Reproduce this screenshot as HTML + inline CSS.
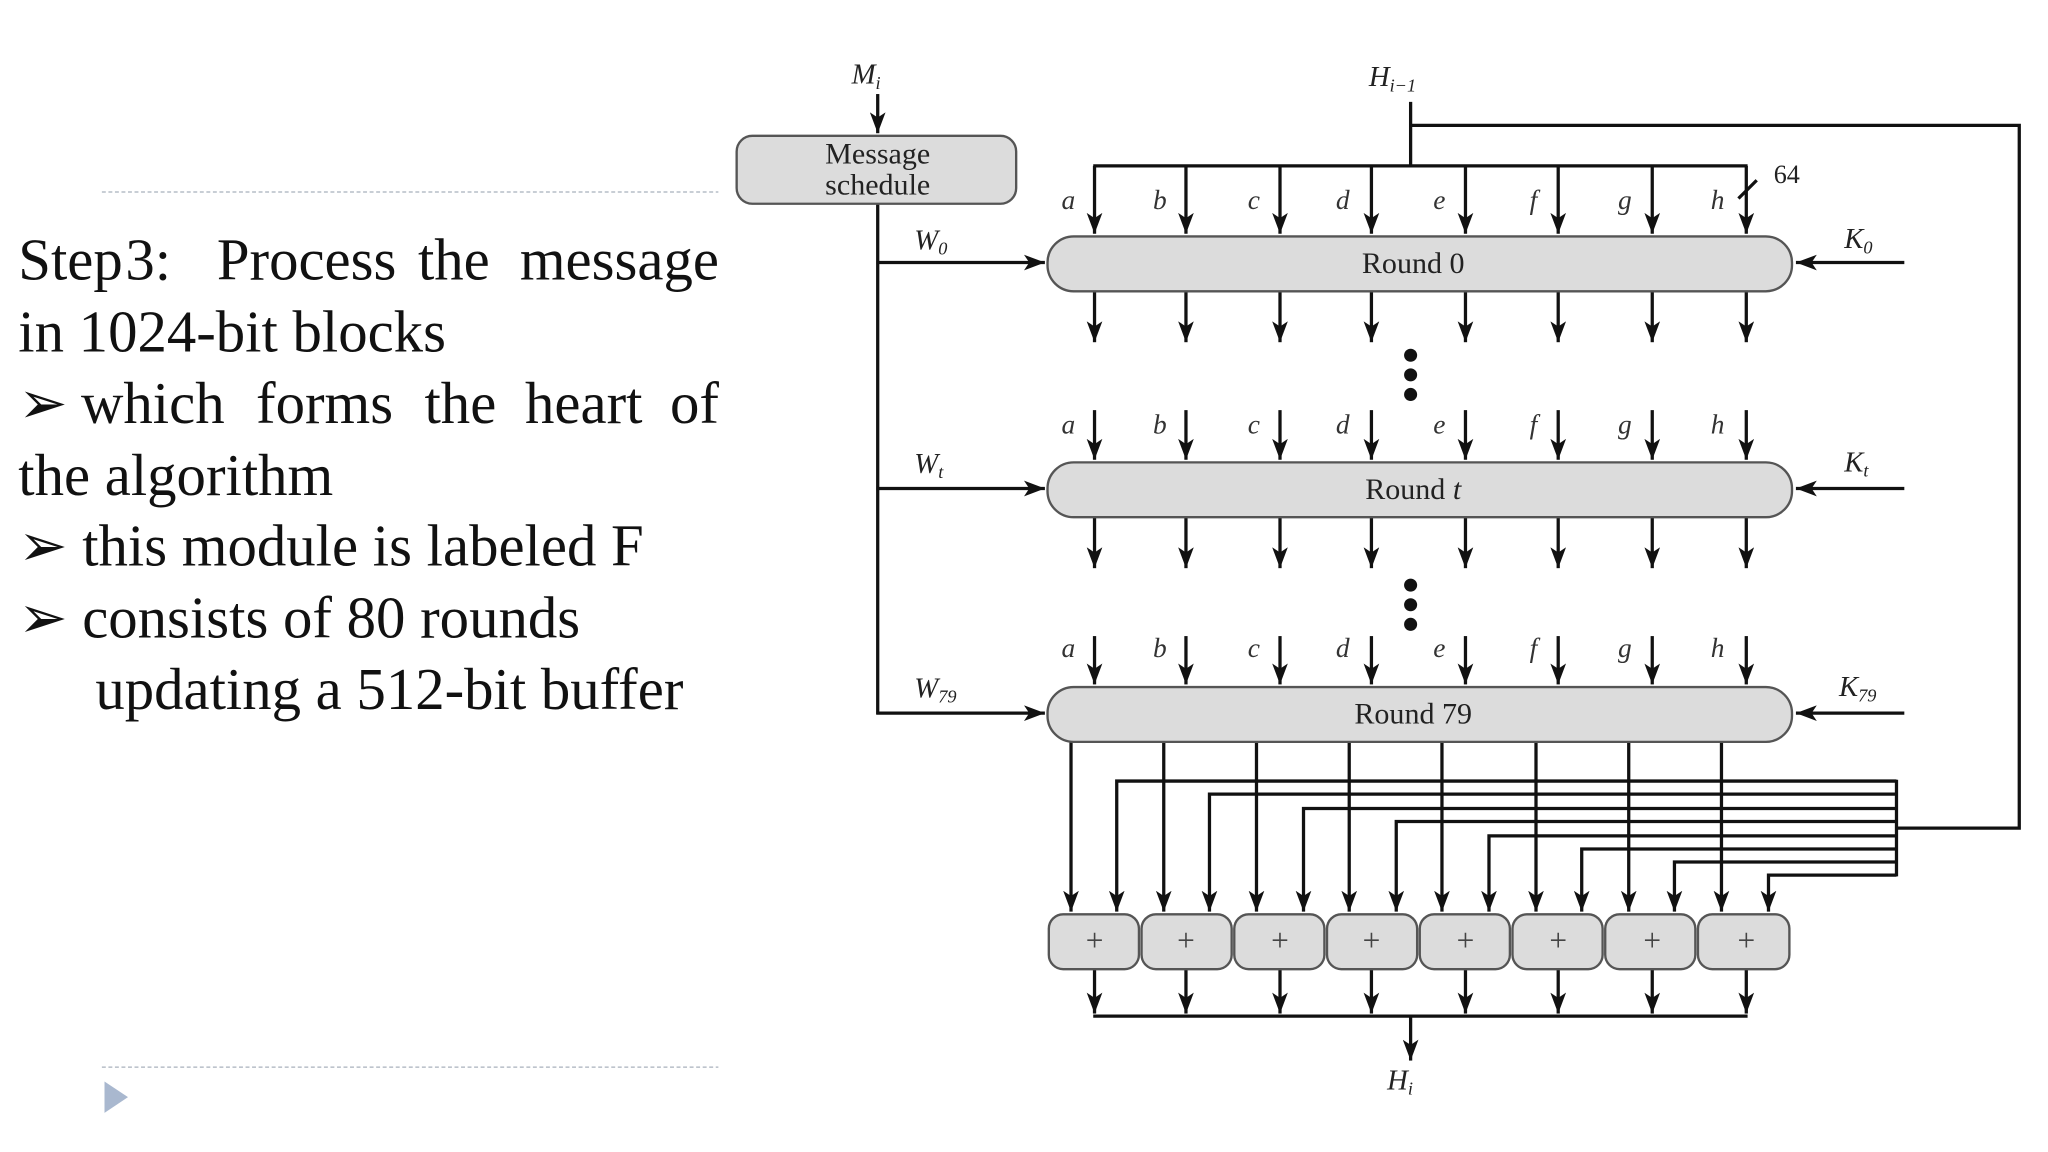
<!DOCTYPE html>
<html><head><meta charset="utf-8"><style>
html,body{margin:0;padding:0;background:#fff;width:2048px;height:1152px;overflow:hidden}
svg{display:block}
</style></head><body>
<svg width="2048" height="1152" viewBox="0 0 1568 882" xmlns="http://www.w3.org/2000/svg">
<defs>
<marker id="ab" markerWidth="16" markerHeight="12" viewBox="0 0 16 12" refX="16" refY="6" orient="auto" markerUnits="userSpaceOnUse">
<path d="M0,0 L16,6 L0,12 L4,6 Z" fill="#111"/>
</marker>
</defs>
<g stroke="#a8b0bc" stroke-width="1" stroke-dasharray="3,2">
<line x1="78" y1="147" x2="550" y2="147"/>
<line x1="78" y1="817" x2="550" y2="817"/>
</g>
<path d="M80,828 L98,840 L80,852 Z" fill="#a9b8cf"/>
<g font-family="Liberation Serif, serif" font-size="45" fill="#111">
<text y="214"><tspan x="14">Step</tspan><tspan x="96">3:</tspan><tspan x="166">Process</tspan><tspan x="320">the</tspan><tspan x="398">message</tspan></text>
<text x="14" y="269">in 1024-bit  blocks</text>
<text y="324"><tspan x="14">➢</tspan><tspan x="62">which</tspan><tspan x="196">forms</tspan><tspan x="325">the</tspan><tspan x="402">heart</tspan><tspan x="513">of</tspan></text>
<text x="14" y="379">the algorithm</text>
<text x="14" y="433">➢ this module is labeled F</text>
<text x="14" y="488">➢ consists of 80 rounds</text>
<text x="73" y="543">updating a 512-bit buffer</text>
</g>
<g stroke="#111" stroke-width="2.5" fill="none">
<line x1="672" y1="72" x2="672" y2="102" marker-end="url(#ab)"/>
<line x1="672" y1="156" x2="672" y2="547"/>
<line x1="671" y1="201" x2="800" y2="201" marker-end="url(#ab)"/>
<line x1="671" y1="374" x2="800" y2="374" marker-end="url(#ab)"/>
<line x1="671" y1="546" x2="800" y2="546" marker-end="url(#ab)"/>
<line x1="1458" y1="201" x2="1375" y2="201" marker-end="url(#ab)"/>
<line x1="1458" y1="374" x2="1375" y2="374" marker-end="url(#ab)"/>
<line x1="1458" y1="546" x2="1375" y2="546" marker-end="url(#ab)"/>
<line x1="1080" y1="78" x2="1080" y2="127"/>
<polyline points="1080,96 1546,96 1546,634 1452,634"/>
<line x1="837" y1="127" x2="1338" y2="127"/>
<line x1="1331" y1="152" x2="1345" y2="138"/>
</g>
<g stroke="#111" stroke-width="2.5" fill="none">
<line x1="838" y1="127" x2="838" y2="179" marker-end="url(#ab)"/>
<line x1="908" y1="127" x2="908" y2="179" marker-end="url(#ab)"/>
<line x1="980" y1="127" x2="980" y2="179" marker-end="url(#ab)"/>
<line x1="1050" y1="127" x2="1050" y2="179" marker-end="url(#ab)"/>
<line x1="1122" y1="127" x2="1122" y2="179" marker-end="url(#ab)"/>
<line x1="1193" y1="127" x2="1193" y2="179" marker-end="url(#ab)"/>
<line x1="1265" y1="127" x2="1265" y2="179" marker-end="url(#ab)"/>
<line x1="1337" y1="127" x2="1337" y2="179" marker-end="url(#ab)"/>
<line x1="838" y1="223" x2="838" y2="262" marker-end="url(#ab)"/>
<line x1="908" y1="223" x2="908" y2="262" marker-end="url(#ab)"/>
<line x1="980" y1="223" x2="980" y2="262" marker-end="url(#ab)"/>
<line x1="1050" y1="223" x2="1050" y2="262" marker-end="url(#ab)"/>
<line x1="1122" y1="223" x2="1122" y2="262" marker-end="url(#ab)"/>
<line x1="1193" y1="223" x2="1193" y2="262" marker-end="url(#ab)"/>
<line x1="1265" y1="223" x2="1265" y2="262" marker-end="url(#ab)"/>
<line x1="1337" y1="223" x2="1337" y2="262" marker-end="url(#ab)"/>
<line x1="838" y1="314" x2="838" y2="352" marker-end="url(#ab)"/>
<line x1="908" y1="314" x2="908" y2="352" marker-end="url(#ab)"/>
<line x1="980" y1="314" x2="980" y2="352" marker-end="url(#ab)"/>
<line x1="1050" y1="314" x2="1050" y2="352" marker-end="url(#ab)"/>
<line x1="1122" y1="314" x2="1122" y2="352" marker-end="url(#ab)"/>
<line x1="1193" y1="314" x2="1193" y2="352" marker-end="url(#ab)"/>
<line x1="1265" y1="314" x2="1265" y2="352" marker-end="url(#ab)"/>
<line x1="1337" y1="314" x2="1337" y2="352" marker-end="url(#ab)"/>
<line x1="838" y1="396" x2="838" y2="435" marker-end="url(#ab)"/>
<line x1="908" y1="396" x2="908" y2="435" marker-end="url(#ab)"/>
<line x1="980" y1="396" x2="980" y2="435" marker-end="url(#ab)"/>
<line x1="1050" y1="396" x2="1050" y2="435" marker-end="url(#ab)"/>
<line x1="1122" y1="396" x2="1122" y2="435" marker-end="url(#ab)"/>
<line x1="1193" y1="396" x2="1193" y2="435" marker-end="url(#ab)"/>
<line x1="1265" y1="396" x2="1265" y2="435" marker-end="url(#ab)"/>
<line x1="1337" y1="396" x2="1337" y2="435" marker-end="url(#ab)"/>
<line x1="838" y1="487" x2="838" y2="524" marker-end="url(#ab)"/>
<line x1="908" y1="487" x2="908" y2="524" marker-end="url(#ab)"/>
<line x1="980" y1="487" x2="980" y2="524" marker-end="url(#ab)"/>
<line x1="1050" y1="487" x2="1050" y2="524" marker-end="url(#ab)"/>
<line x1="1122" y1="487" x2="1122" y2="524" marker-end="url(#ab)"/>
<line x1="1193" y1="487" x2="1193" y2="524" marker-end="url(#ab)"/>
<line x1="1265" y1="487" x2="1265" y2="524" marker-end="url(#ab)"/>
<line x1="1337" y1="487" x2="1337" y2="524" marker-end="url(#ab)"/>
<line x1="820" y1="568" x2="820" y2="698" marker-end="url(#ab)"/>
<line x1="891" y1="568" x2="891" y2="698" marker-end="url(#ab)"/>
<line x1="962" y1="568" x2="962" y2="698" marker-end="url(#ab)"/>
<line x1="1033" y1="568" x2="1033" y2="698" marker-end="url(#ab)"/>
<line x1="1104" y1="568" x2="1104" y2="698" marker-end="url(#ab)"/>
<line x1="1176" y1="568" x2="1176" y2="698" marker-end="url(#ab)"/>
<line x1="1247" y1="568" x2="1247" y2="698" marker-end="url(#ab)"/>
<line x1="1318" y1="568" x2="1318" y2="698" marker-end="url(#ab)"/>
<line x1="1452" y1="597" x2="1452" y2="671"/>
<polyline points="1452,598 855,598 855,698" marker-end="url(#ab)"/>
<polyline points="1452,608 926,608 926,698" marker-end="url(#ab)"/>
<polyline points="1452,619 998,619 998,698" marker-end="url(#ab)"/>
<polyline points="1452,629 1069,629 1069,698" marker-end="url(#ab)"/>
<polyline points="1452,640 1140,640 1140,698" marker-end="url(#ab)"/>
<polyline points="1452,650 1211,650 1211,698" marker-end="url(#ab)"/>
<polyline points="1452,660 1282,660 1282,698" marker-end="url(#ab)"/>
<polyline points="1452,670 1354,670 1354,698" marker-end="url(#ab)"/>
<line x1="838" y1="742" x2="838" y2="776" marker-end="url(#ab)"/>
<line x1="908" y1="742" x2="908" y2="776" marker-end="url(#ab)"/>
<line x1="980" y1="742" x2="980" y2="776" marker-end="url(#ab)"/>
<line x1="1050" y1="742" x2="1050" y2="776" marker-end="url(#ab)"/>
<line x1="1122" y1="742" x2="1122" y2="776" marker-end="url(#ab)"/>
<line x1="1193" y1="742" x2="1193" y2="776" marker-end="url(#ab)"/>
<line x1="1265" y1="742" x2="1265" y2="776" marker-end="url(#ab)"/>
<line x1="1337" y1="742" x2="1337" y2="776" marker-end="url(#ab)"/>
<line x1="837" y1="778" x2="1338" y2="778"/>
<line x1="1080" y1="778" x2="1080" y2="812" marker-end="url(#ab)"/>
</g>
<g fill="#111">
<circle cx="1080" cy="272" r="5"/><circle cx="1080" cy="287" r="5"/><circle cx="1080" cy="302" r="5"/>
<circle cx="1080" cy="448" r="5"/><circle cx="1080" cy="463" r="5"/><circle cx="1080" cy="478" r="5"/>
</g>
<g fill="#dcdcdc" stroke="#555" stroke-width="1.8">
<rect x="564" y="104" width="214" height="52" rx="12"/>
<rect x="802" y="181" width="570" height="42" rx="20"/>
<rect x="802" y="354" width="570" height="42" rx="20"/>
<rect x="802" y="526" width="570" height="42" rx="20"/>
<rect x="803" y="700" width="69" height="42" rx="11"/>
<rect x="874" y="700" width="69" height="42" rx="11"/>
<rect x="945" y="700" width="69" height="42" rx="11"/>
<rect x="1016" y="700" width="69" height="42" rx="11"/>
<rect x="1087" y="700" width="69" height="42" rx="11"/>
<rect x="1158" y="700" width="69" height="42" rx="11"/>
<rect x="1229" y="700" width="69" height="42" rx="11"/>
<rect x="1300" y="700" width="70" height="42" rx="11"/>
</g>
<g font-family="Liberation Serif, serif" fill="#222" text-anchor="middle">
<text x="672" y="125" font-size="23">Message</text>
<text x="672" y="149" font-size="23">schedule</text>
<text x="1082" y="209" font-size="23">Round 0</text>
<text x="1082" y="382" font-size="23">Round <tspan font-style="italic">t</tspan></text>
<text x="1082" y="554" font-size="23">Round 79</text>
<text x="1368" y="140" font-size="20">64</text>
<g font-size="24" fill="#444">
<text x="838" y="728">+</text><text x="908" y="728">+</text><text x="980" y="728">+</text><text x="1050" y="728">+</text>
<text x="1122" y="728">+</text><text x="1193" y="728">+</text><text x="1265" y="728">+</text><text x="1337" y="728">+</text>
</g>
</g>
<g font-family="Liberation Serif, serif" font-style="italic" fill="#222" font-size="22">
<text x="652" y="64">M<tspan font-size="14" dy="4">i</tspan></text>
<text x="1048" y="66">H<tspan font-size="14" dy="4">i−1</tspan></text>
<text x="1062" y="834">H<tspan font-size="14" dy="4">i</tspan></text>
<text x="700" y="191">W<tspan font-size="14" dy="4">0</tspan></text>
<text x="700" y="362">W<tspan font-size="14" dy="4">t</tspan></text>
<text x="700" y="534">W<tspan font-size="14" dy="4">79</tspan></text>
<text x="1412" y="190">K<tspan font-size="14" dy="4">0</tspan></text>
<text x="1412" y="361">K<tspan font-size="14" dy="4">t</tspan></text>
<text x="1408" y="533">K<tspan font-size="14" dy="4">79</tspan></text>
</g>
<g font-family="Liberation Serif, serif" font-style="italic" fill="#333" font-size="21" text-anchor="middle">
<text x="818" y="160">a</text><text x="888" y="160">b</text><text x="960" y="160">c</text><text x="1028" y="160">d</text>
<text x="1102" y="160">e</text><text x="1174" y="160">f</text><text x="1244" y="160">g</text><text x="1315" y="160">h</text>
<text x="818" y="332">a</text><text x="888" y="332">b</text><text x="960" y="332">c</text><text x="1028" y="332">d</text>
<text x="1102" y="332">e</text><text x="1174" y="332">f</text><text x="1244" y="332">g</text><text x="1315" y="332">h</text>
<text x="818" y="503">a</text><text x="888" y="503">b</text><text x="960" y="503">c</text><text x="1028" y="503">d</text>
<text x="1102" y="503">e</text><text x="1174" y="503">f</text><text x="1244" y="503">g</text><text x="1315" y="503">h</text>
</g>
</svg>
</body></html>
